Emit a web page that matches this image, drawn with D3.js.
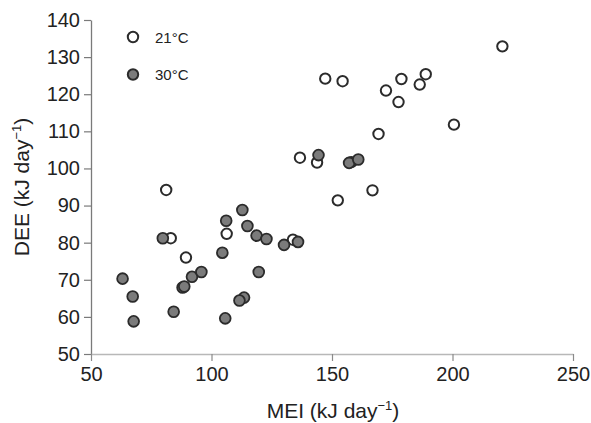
<!DOCTYPE html>
<html>
<head>
<meta charset="utf-8">
<script src="https://cdnjs.cloudflare.com/ajax/libs/d3/7.8.5/d3.min.js"></script>
<style>
  body { margin: 0; background: #fff; }
  text { font-family: "Liberation Sans", Arial, sans-serif; fill: #222; }
</style>
</head>
<body>
<div id="chart"></div>
<script>
// MEI (x) and DEE (y)
var mei21 = [220.7, 147.2, 154.4, 172.4, 178.8, 188.9, 186.4, 177.6, 200.6, 169.3,
             136.7, 143.8, 158.0, 166.8, 152.4, 81.2, 83.1, 89.4, 106.3, 133.8];
var dee21 = [132.9, 124.2, 123.5, 121.0, 124.1, 125.4, 122.6, 117.9, 111.8, 109.3,
             102.9, 101.6, 101.7, 94.1, 91.4, 94.2, 81.2, 76.0, 82.4, 80.8];

var mei30 = [144.4, 157.1, 160.9, 79.8, 63.1, 106.1, 112.8, 114.9, 118.7, 122.8,
             104.5, 130.1, 135.9, 67.3, 67.7, 84.3, 88.0, 88.7, 91.9, 95.8,
             119.6, 113.5, 111.6, 105.7];
var dee30 = [103.6, 101.5, 102.4, 81.2, 70.3, 85.9, 88.8, 84.5, 81.9, 81.0,
             77.3, 79.4, 80.2, 65.5, 58.8, 61.4, 67.9, 68.2, 70.8, 72.1,
             72.1, 65.2, 64.4, 59.6];

var xTicks = [50, 100, 150, 200, 250];
var yTicks = [50, 60, 70, 80, 90, 100, 110, 120, 130, 140];
var legendItems = ["21°C", "30°C"];

var svg = d3.select("#chart").append("svg").attr("width", 591).attr("height", 423);

var x = d3.scaleLinear().domain([50, 250]).range([91, 573]);
var y = d3.scaleLinear().domain([50, 140]).range([354, 20]);

// y axis
var yAxis = d3.axisLeft(y).tickValues(yTicks).tickSizeInner(7).tickSizeOuter(0).tickPadding(4);
var gy = svg.append("g").attr("transform", "translate(" + 91 + ",0)").call(yAxis);
gy.select(".domain").attr("stroke", "#7a7a7a").attr("stroke-width", 1.3);
gy.selectAll(".tick line").attr("stroke", "#7a7a7a").attr("stroke-width", 1.2);
gy.selectAll(".tick text").attr("font-size", 20).attr("fill", "#222")
  .attr("font-family", "Liberation Sans, Arial, sans-serif");

// x axis
var xAxis = d3.axisBottom(x).tickValues(xTicks).tickSizeInner(7).tickSizeOuter(0).tickPadding(6);
var gx = svg.append("g").attr("transform", "translate(0," + 354 + ")").call(xAxis);
gx.select(".domain").attr("stroke", "#b8b8b8").attr("stroke-width", 1.5);
gx.selectAll(".tick line").attr("stroke", "#8a8a8a").attr("stroke-width", 1.2);
gx.selectAll(".tick text").attr("font-size", 20).attr("fill", "#222")
  .attr("font-family", "Liberation Sans, Arial, sans-serif");

// axis titles
var xt = svg.append("text").attr("text-anchor", "middle")
  .attr("transform", "translate(" + 333 + "," + 418 + ")").attr("font-size", 21);
xt.append("tspan").text("MEI (kJ day");
xt.append("tspan").attr("dy", -8).attr("font-size", 13).text("\u22121");
xt.append("tspan").attr("dy", 8).text(")");

var yt = svg.append("text").attr("text-anchor", "middle")
  .attr("transform", "rotate(-90) translate(" + (-187) + "," + 29 + ")").attr("font-size", 21);
yt.append("tspan").text("DEE (kJ day");
yt.append("tspan").attr("dy", -8).attr("font-size", 13).text("\u22121");
yt.append("tspan").attr("dy", 8).text(")");

// points
var pts21 = mei21.map(function(d, i) { return [d, dee21[i]]; });
var pts30 = mei30.map(function(d, i) { return [d, dee30[i]]; });

svg.append("g").selectAll("circle").data(pts21).enter()
  .append("circle")
  .attr("cx", function(d) { return x(d[0]); })
  .attr("cy", function(d) { return y(d[1]); })
  .attr("r", 5.2)
  .attr("fill", "#fff")
  .attr("stroke", "#2b2b2b")
  .attr("stroke-width", 2);

svg.append("g").selectAll("circle").data(pts30).enter()
  .append("circle")
  .attr("cx", function(d) { return x(d[0]); })
  .attr("cy", function(d) { return y(d[1]); })
  .attr("r", 5.4)
  .attr("fill", "#7b7b7b")
  .attr("stroke", "#2b2b2b")
  .attr("stroke-width", 1.8);

// legend
var lg = svg.append("g");
lg.selectAll("circle").data(legendItems).enter()
  .append("circle")
  .attr("cx", 133)
  .attr("cy", function(d, i) { return 37 + i * 37.5; })
  .attr("r", 5.2)
  .attr("fill", function(d, i) { return i == 0 ? "#fff" : "#7b7b7b"; })
  .attr("stroke", "#2b2b2b")
  .attr("stroke-width", 2);
lg.selectAll("text").data(legendItems).enter()
  .append("text")
  .attr("x", 155)
  .attr("y", function(d, i) { return 42.5 + i * 37.5; })
  .attr("font-size", 15)
  .text(function(d) { return d; });
</script>
</body>
</html>
